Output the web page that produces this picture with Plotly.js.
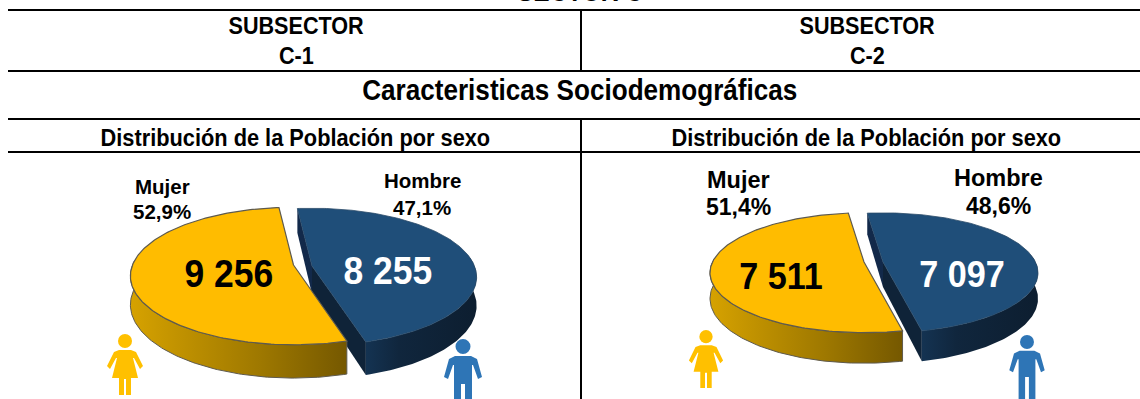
<!DOCTYPE html>
<html>
<head>
<meta charset="utf-8">
<script src="https://cdn.plot.ly/plotly-3.0.1.min.js"></script>
<style>html,body{margin:0;padding:0;background:#fff;overflow:hidden}#chart{width:1140px;height:399px}</style>
</head>
<body>
<div id="chart"></div>
<script>
// ---- data ----
const categories = ["Mujer", "Hombre"];
const subsectors = ["C-1", "C-2"];
const c1Values = [9256, 8255];
const c2Values = [7511, 7097];
const c1Shares = ["52,9%", "47,1%"];
const c2Shares = ["51,4%", "48,6%"];
const c1Counts = ["9 256", "8 255"];
const c2Counts = ["7 511", "7 097"];
const headerWord = "SUBSECTOR";
const sectionTitle = "Caracteristicas Sociodemográficas";
const panelTitle = "Distribución de la Población por sexo";
const clippedTitle = "SECTOR C";

// ---- styling and layout ----
const FONT = "Liberation Sans, Arial, sans-serif";
const YELLOW = "#FFBC00", BLUE = "#1F4E79", MAN = "#2E75B6", WOMAN = "#FFC000";
const panels = [
  {values: c1Values, shares: c1Shares, counts: c1Counts,
   start: 96, p: 0.16, h: 67, depth: 28,
   yellow: {ax: 293.5, ay: 265, w: 161}, blue: {ax: 312, ay: 266, w: 162.5},
   label: {size: [20.5, 20.5], mx: 162, my: [186, 211], hx: 422, hy: [180, 207]},
   count: {size: 39, sx: 0.91, mx: 229, my: 273, hx: 388, hy: 270},
   woman: [125, 334, 1], man: [463, 339, 1]},
  {values: c2Values, shares: c2Shares, counts: c2Counts,
   start: 97, p: 0.18, h: 58, depth: 25,
   yellow: {ax: 864, ay: 262, w: 151.5}, blue: {ax: 883, ay: 262, w: 152.5},
   label: {size: [23.5, 23], mx: 738, my: [180, 207], hx: 998, hy: [178, 206]},
   count: {size: 36, sx: 0.95, mx: 781, my: 276, hx: 962, hy: 274},
   woman: [706, 330, 0.95], man: [1027, 335, 0.93]}
];

function rim(g, geo, deg) {
  const t = deg * Math.PI / 180, u = Math.cos(t), v = Math.sin(t), d = 1 + g.p * v;
  return {x: geo.ax + geo.w * u / d, y: geo.ay - g.h * v / d, drop: g.depth / d};
}
function arc(g, geo, from, to) {
  const n = Math.max(2, Math.round(Math.abs(to - from))), out = [];
  for (let i = 0; i <= n; i++) out.push(rim(g, geo, from + (to - from) * i / n));
  return out;
}
function poly(x, y, fill, extra) {
  return Object.assign({type: "scatter", mode: "lines", x, y, fill: "toself", fillcolor: fill,
    line: {width: 0, color: fill}, hoverinfo: "skip", showlegend: false}, extra || {});
}
const traces = [];
panels.forEach(g => {
  const total = g.values[0] + g.values[1];
  const sweepM = g.values[0] / total * 360, sweepH = g.values[1] / total * 360;
  const yEnd = g.start + sweepM, bEnd = g.start - sweepH;
  const by = g.blue, ye = g.yellow;

  // Hombre walls
  const bA = rim(g, by, g.start), bZ = rim(g, by, bEnd);
  traces.push(poly([bA.x, by.ax, by.ax, bA.x], [bA.y, by.ay, by.ay + g.depth, bA.y + bA.drop], "#12294A"));
  traces.push(poly([by.ax, bZ.x, bZ.x, by.ax], [by.ay, bZ.y, bZ.y + bZ.drop, by.ay + g.depth], "#0F2338"));
  const wallB = arc(g, by, bEnd, 8);
  traces.push(poly(wallB.map(q => q.x).concat(wallB.map(q => q.x).reverse()),
    wallB.map(q => q.y).concat(wallB.map(q => q.y + q.drop).reverse()), "#0F2338",
    {fillgradient: {type: "horizontal", colorscale: [[0, "#143352"], [0.3, "#10263D"], [1, "#0D1E30"]]}}));
  // Hombre top
  const topB = arc(g, by, g.start, bEnd);
  traces.push(poly([by.ax].concat(topB.map(q => q.x), by.ax), [by.ay].concat(topB.map(q => q.y), by.ay), BLUE,
    {line: {width: 0.8, color: "#2A4A68"}, name: categories[1]}));

  // Mujer wall
  const wallY = arc(g, ye, 176, yEnd);
  traces.push(poly(wallY.map(q => q.x).concat(wallY.map(q => q.x).reverse()),
    wallY.map(q => q.y).concat(wallY.map(q => q.y + q.drop).reverse()), "#B88C00",
    {line: {width: 1, color: "#5E5A4E"},
     fillgradient: {type: "horizontal", colorscale: [[0, "#D6A200"], [0.25, "#BE9000"], [0.6, "#9E7800"], [1, "#755800"]]}}));
  // Mujer top
  const topY = arc(g, ye, g.start, yEnd);
  traces.push(poly([ye.ax].concat(topY.map(q => q.x), ye.ax), [ye.ay].concat(topY.map(q => q.y), ye.ay), YELLOW,
    {line: {width: 1.2, color: "#5E5A4E"}, name: categories[0]}));
});

// ---- table rules ----
const rule = (x0, y0, x1, y1) => ({type: "line", xref: "x", yref: "y", x0, y0, x1, y1, line: {color: "#000", width: 2}});
const LEFT = 8, RIGHT = 1140, DIV = 581;
const shapes = [
  rule(LEFT, 10, RIGHT, 10), rule(LEFT, 71, RIGHT, 71), rule(LEFT, 119, RIGHT, 119), rule(LEFT, 152, RIGHT, 152),
  rule(DIV, 10, DIV, 71), rule(DIV, 119, DIV, 152), rule(DIV, 152, DIV, 399)
];

// ---- person pictograms ----
function pathOf(pts, cx, top, k) {
  return pts.map((q, i) => (i ? "L" : "M") + (cx + q[0] * k).toFixed(1) + "," + (top + q[1] * k).toFixed(1)).join(" ") + " Z";
}
function head(cx, top, k, r, color) {
  return {type: "circle", xref: "x", yref: "y", x0: cx - r * k, x1: cx + r * k, y0: top, y1: top + 2 * r * k,
          fillcolor: color, line: {width: 0}};
}
const womanShape = [[-6,16],[6,16],[11,18],[18,32],[15,35],[9,24],[8,24],[13,44],[6,44],[6,61],[1,61],[1,45],[-1,45],[-1,61],[-6,61],[-6,44],[-13,44],[-8,24],[-9,24],[-15,35],[-18,32],[-11,18]];
const manShape = [[-8,17],[8,17],[14,20],[19,38],[15,40],[10,26],[9,26],[9,75],[2,75],[2,45],[-2,45],[-2,75],[-9,75],[-9,26],[-10,26],[-15,40],[-19,38],[-14,20]];
panels.forEach(g => {
  const [wx, wy, wk] = g.woman, [mx, my, mk] = g.man;
  shapes.push(head(wx, wy, wk, 7, WOMAN));
  shapes.push({type: "path", xref: "x", yref: "y", path: pathOf(womanShape, wx, wy, wk), fillcolor: WOMAN, line: {width: 0}});
  shapes.push(head(mx, my, mk, 7.5, MAN));
  shapes.push({type: "path", xref: "x", yref: "y", path: pathOf(manShape, mx, my, mk), fillcolor: MAN, line: {width: 0}});
});

// ---- text ----
const annotations = [], squeeze = [];
const txt = (s, x, y, size, color, sx) => {
  annotations.push({text: "<b>" + s + "</b>", x, y, xref: "x", yref: "y",
    xanchor: "center", yanchor: "middle", showarrow: false, font: {family: FONT, size, color: color || "#000"}});
  squeeze.push(sx || 1);
};
annotations.push({text: "<b>" + clippedTitle + "</b>", x: 580 / 1140, y: 1 + 8 / 399, xref: "paper", yref: "paper",
  xanchor: "center", yanchor: "middle", showarrow: false, font: {family: FONT, size: 26, color: "#000"}});
squeeze.push(0.94);
const NARROW = 0.9;
txt(headerWord, 296, 25, 24, null, NARROW); txt(subsectors[0], 296, 55, 24, null, NARROW);
txt(headerWord, 867, 25, 24, null, NARROW); txt(subsectors[1], 867, 55, 24, null, NARROW);
txt(sectionTitle, 580, 90, 29, null, NARROW);
txt(panelTitle, 295, 137, 24.2, null, NARROW); txt(panelTitle, 866, 137, 24.2, null, NARROW);
panels.forEach(g => {
  const L = g.label, C = g.count;
  txt(categories[0], L.mx, L.my[0], L.size[0]); txt(g.shares[0], L.mx, L.my[1], L.size[1]);
  txt(categories[1], L.hx, L.hy[0], L.size[0]); txt(g.shares[1], L.hx, L.hy[1], L.size[1]);
  txt(g.counts[0], C.mx, C.my, C.size, null, C.sx);
  txt(g.counts[1], C.hx, C.hy, C.size, "#FFFFFF", C.sx);
});

Plotly.newPlot("chart", traces, {
  width: 1140, height: 399, margin: {l: 0, r: 0, t: 0, b: 0},
  paper_bgcolor: "#fff", plot_bgcolor: "#fff", showlegend: false,
  xaxis: {range: [0, 1140], visible: false, fixedrange: true},
  yaxis: {range: [399, 0], visible: false, fixedrange: true},
  shapes, annotations
}, {displayModeBar: false, staticPlot: true}).then(gd => {
  // the source's lettering is horizontally condensed: narrow each text about its own centre
  gd.querySelectorAll(".annotation").forEach(a => {
    const i = +a.getAttribute("data-index"), sx = squeeze[i], t = a.querySelector("text");
    if (!t || sx === 1) return;
    const b = t.getBBox(), cx = b.x + b.width / 2;
    t.setAttribute("transform", "translate(" + cx + " 0) scale(" + sx + " 1) translate(" + (-cx) + " 0)");
  });
});
</script>
</body>
</html>
